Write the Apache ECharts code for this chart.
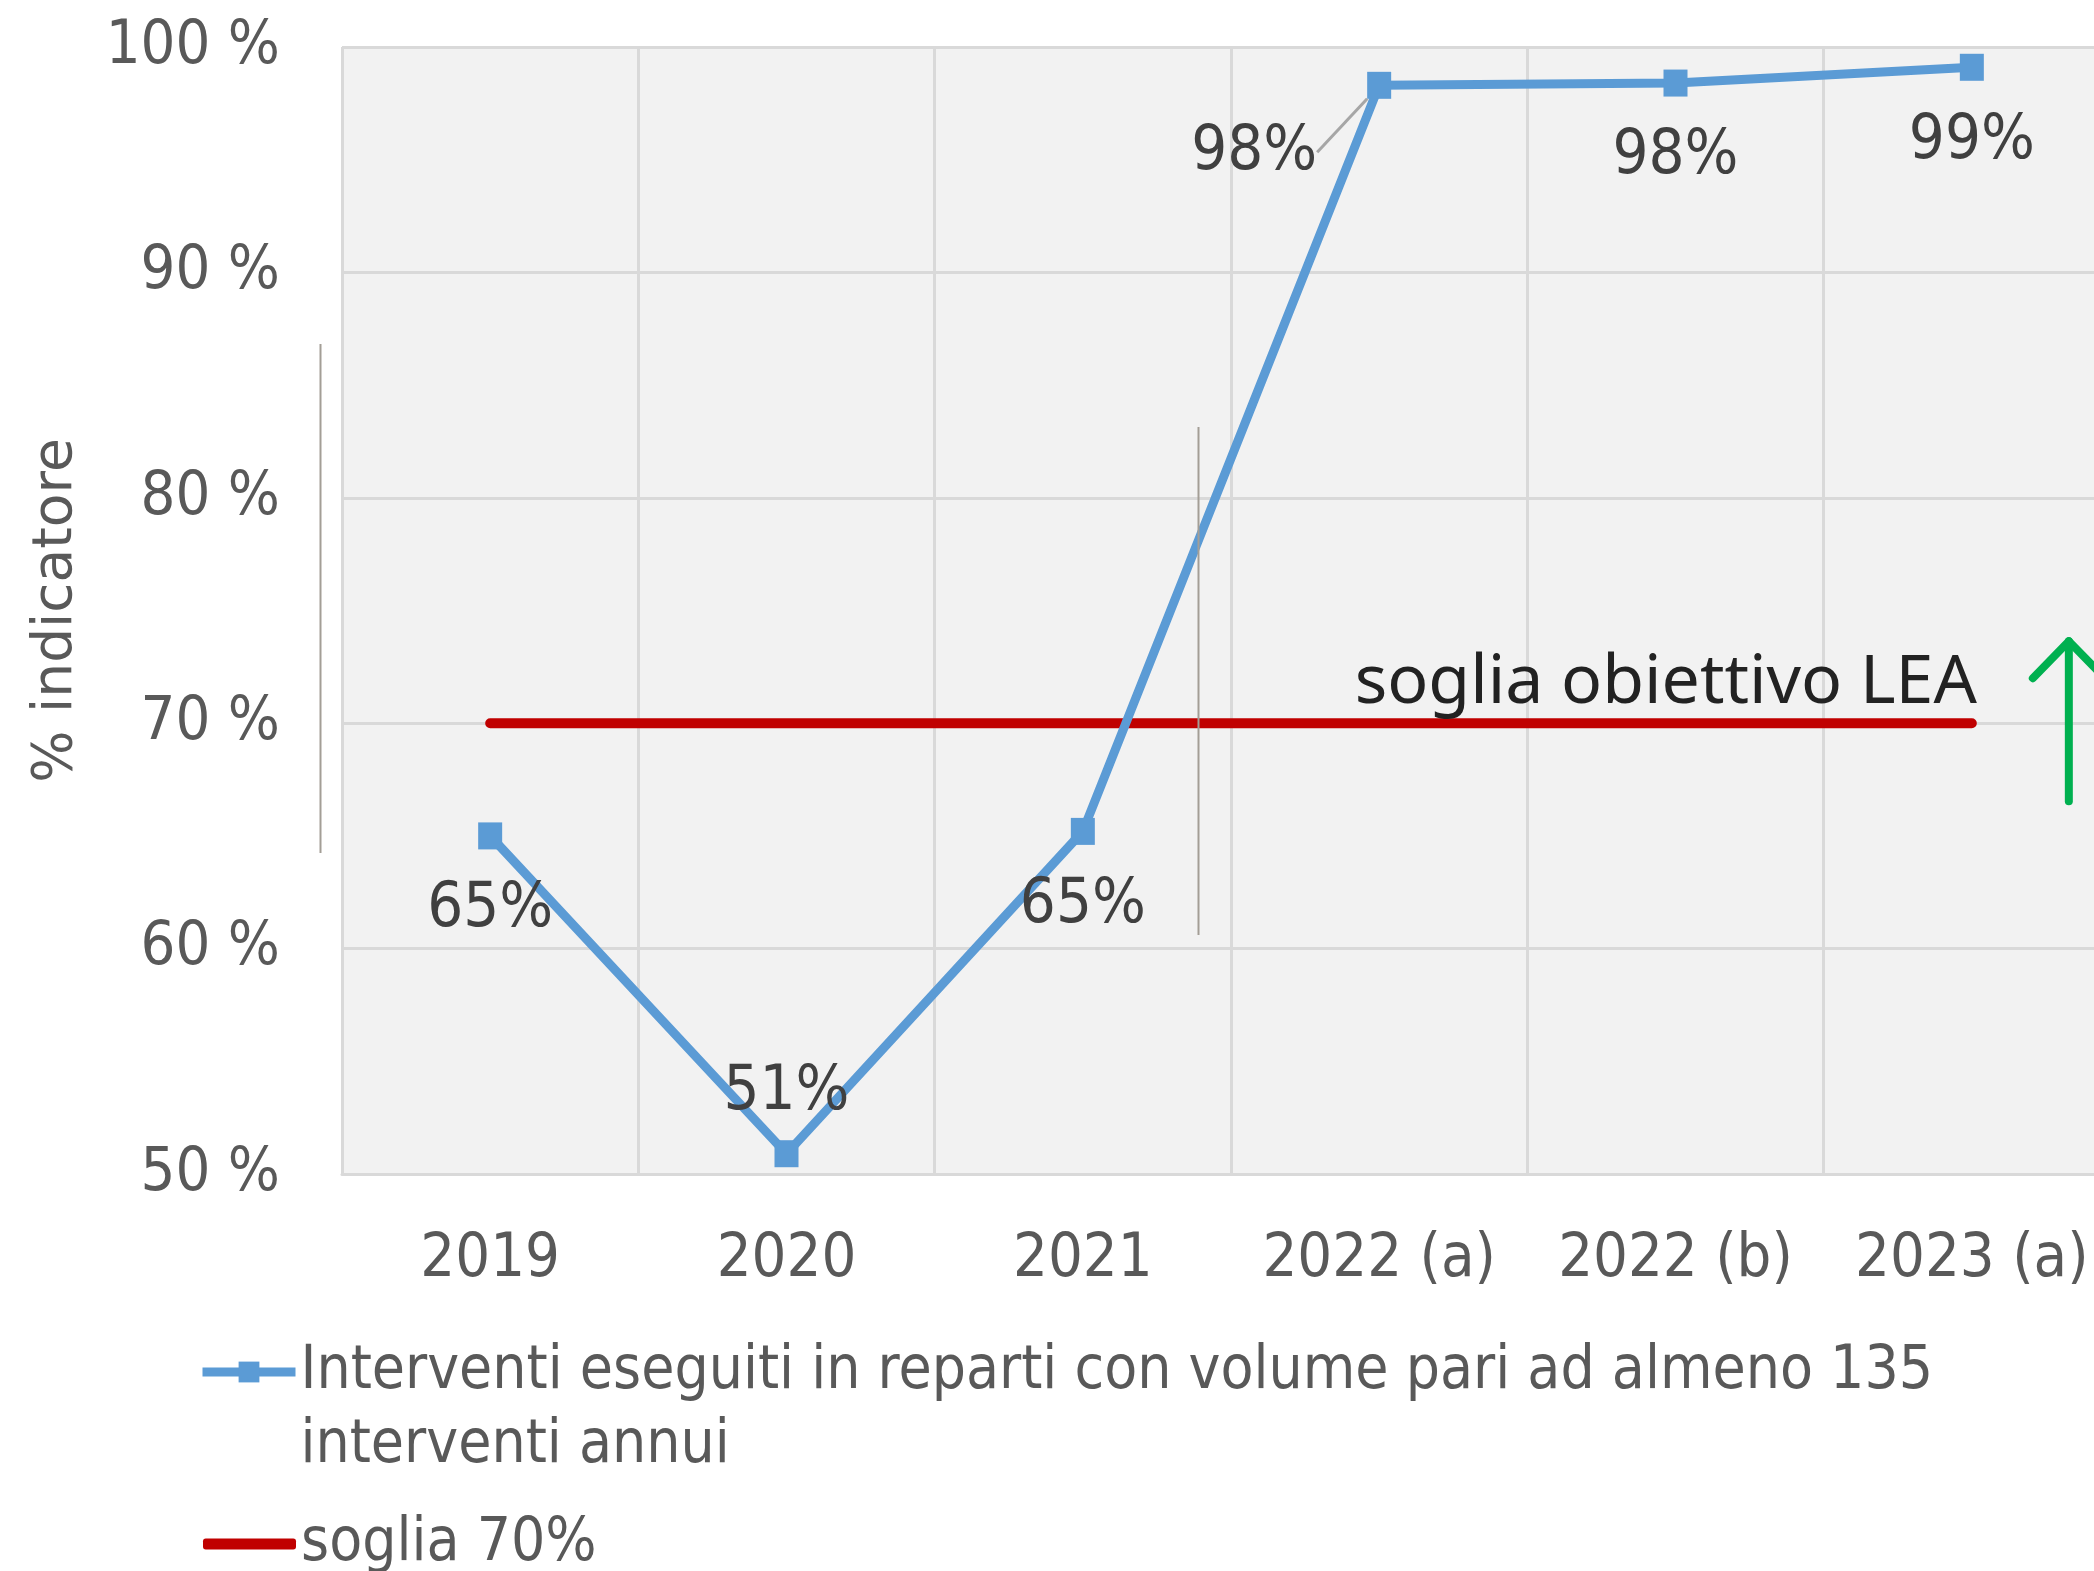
<!DOCTYPE html>
<html>
<head>
<meta charset="utf-8">
<script src="https://cdn.jsdelivr.net/npm/echarts@6/dist/echarts.min.js"></script>
<style>
html, body { margin: 0; padding: 0; background: #fff; }
#chart { width: 2094px; height: 1571px; }
</style>
</head>
<body>
<div id="chart"></div>
<script>
// dati
const categories = ['2019', '2020', '2021', '2022 (a)', '2022 (b)', '2023 (a)']
const interventi = [65, 50.9, 65.2, 98.3, 98.4, 99.1]
const soglia = [70, 70, 70, 70, 70, 70]
const yMin = 50
const yMax = 100
const yStep = 10

const nameInterventi = 'Interventi eseguiti in reparti con volume pari ad almeno 135 interventi annui'
const nameSoglia = 'soglia 70%'

// dove sta l'etichetta di ogni punto
const labelPlace = ['bottom', 'top', 'bottom', 'leader', 'bottom', 'bottom']

const font = '"DejaVu Sans Condensed", "DejaVu Sans", sans-serif'
const grey = '#595959'

const chartInstance = echarts.init(document.getElementById('chart'))

const interventiData = interventi.map((v, i) => {
  const place = labelPlace[i]
  if (place === 'leader') {
    return {
      value: v,
      label: { position: 'left', distance: 50, offset: [0, 67] },
      labelLine: { show: true, lineStyle: { color: '#a6a6a6', width: 3 } },
    }
  }
  return { value: v, label: { position: place, distance: place === 'top' ? 16 : 29 } }
})

const option = {
  backgroundColor: '#fff',
  animation: false,
  grid: {
    left: 342,
    right: -26,
    top: 47,
    bottom: 397,
    outerBoundsMode: 'none',
    containLabel: false,
    show: true,
    backgroundColor: '#f2f2f2',
    borderWidth: 0,
  },
  legend: [
    {
      orient: 'vertical',
      left: 193,
      top: 1256,
      itemWidth: 93,
      itemHeight: 26,
      lineStyle: { width: 9 },
      data: [nameInterventi],
      // riga vuota sopra, così la prima riga resta all'altezza dell'icona
      formatter: () => ' \nInterventi eseguiti in reparti con volume pari ad almeno 135\ninterventi annui',
      textStyle: { fontFamily: font, fontSize: 60, color: grey, lineHeight: 74 },
    },
    {
      orient: 'vertical',
      left: 198,
      top: 1502,
      itemWidth: 93,
      itemHeight: 11,
      data: [{ name: nameSoglia, icon: 'roundRect' }],
      textStyle: { fontFamily: font, fontSize: 60, color: grey, lineHeight: 74 },
    },
  ],
  xAxis: {
    type: 'category',
    data: categories,
    boundaryGap: true,
    axisLine: { show: true, lineStyle: { color: '#d9d9d9', width: 3 } },
    axisTick: { show: false },
    axisLabel: { fontFamily: font, fontSize: 61, color: grey, margin: 56, interval: 0 },
    splitLine: { show: true, lineStyle: { color: '#d9d9d9', width: 3 } },
  },
  yAxis: {
    type: 'value',
    min: yMin,
    max: yMax,
    interval: yStep,
    name: '% indicatore',
    nameLocation: 'middle',
    nameGap: 258,
    nameTextStyle: { fontFamily: '"DejaVu Sans", sans-serif', fontSize: 55, color: grey },
    axisLine: { show: false },
    axisTick: { show: false },
    axisLabel: { fontFamily: font, fontSize: 61, color: grey, margin: 62, formatter: '{value} %' },
    splitLine: { show: true, lineStyle: { color: '#d9d9d9', width: 3 } },
  },
  series: [
    {
      name: nameInterventi,
      type: 'line',
      data: interventiData,
      symbol: 'rect',
      symbolSize: [24, 27],
      lineStyle: { color: '#5b9bd5', width: 9 },
      itemStyle: { color: '#5b9bd5' },
      label: {
        show: true,
        fontFamily: font,
        fontSize: 63,
        color: '#404040',
        formatter: (p) => Math.round(p.value) + '%',
      },
      z: 3,
    },
    {
      name: nameSoglia,
      type: 'line',
      data: soglia,
      symbol: 'none',
      lineStyle: { color: '#c00000', width: 10, cap: 'round' },
      itemStyle: { color: '#c00000' },
      z: 2,
    },
  ],
}
chartInstance.setOption(option)

// annotazione e freccia agganciate alla fine della soglia
const end = chartInstance.convertToPixel({ gridIndex: 0 }, [categories.length - 1, soglia[soglia.length - 1]])
chartInstance.setOption({
  graphic: [
    {
      type: 'text',
      z: 10,
      style: {
        text: 'soglia obiettivo LEA',
        x: end[0] + 5,
        y: end[1] - 6,
        align: 'right',
        verticalAlign: 'bottom',
        font: '68px "Noto Sans"',
        fill: '#222222',
      },
    },
    {
      type: 'polyline',
      z: 10,
      shape: { points: [[end[0] + 97, end[1] + 78], [end[0] + 97, end[1] - 82]] },
      style: { stroke: '#00b050', lineWidth: 8, lineCap: 'round' },
    },
    {
      type: 'polyline',
      z: 10,
      shape: { points: [[end[0] + 61, end[1] - 45], [end[0] + 97, end[1] - 82], [end[0] + 133, end[1] - 45]] },
      style: { stroke: '#00b050', lineWidth: 8, lineCap: 'round', lineJoin: 'round', fill: null },
    },
    // due sottili righe verticali presenti nell'immagine
    { type: 'line', z: 10, shape: { x1: 320.5, y1: 344, x2: 320.5, y2: 853 }, style: { stroke: '#a39e96', lineWidth: 2 } },
    { type: 'line', z: 10, shape: { x1: 1198.5, y1: 427, x2: 1198.5, y2: 935 }, style: { stroke: '#a39e96', lineWidth: 2 } },
  ],
})

window.addEventListener('resize', () => chartInstance.resize())
</script>
</body>
</html>
